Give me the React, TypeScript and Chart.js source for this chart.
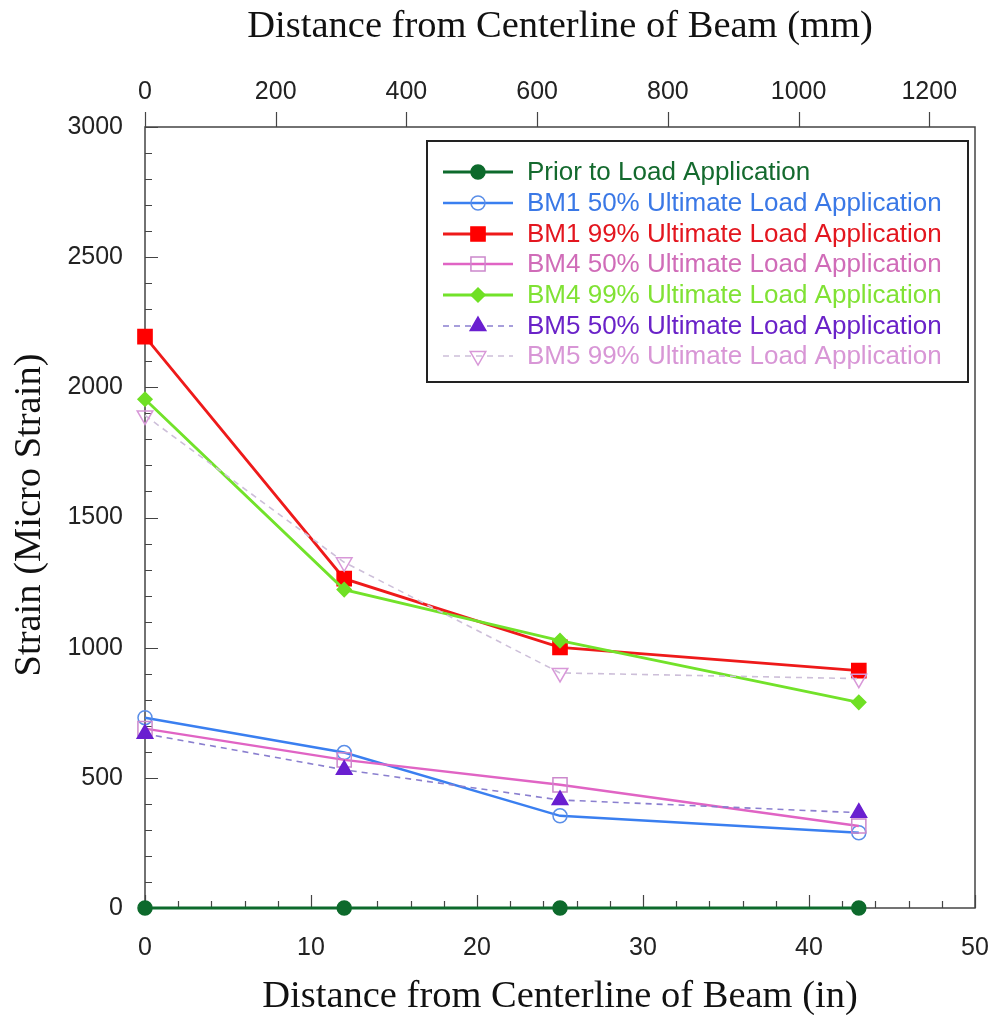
import React, { useEffect, useRef } from "react";
import { Chart, registerables } from "chart.js";

Chart.register(...registerables);

// ---- Data ----
const positionsIn = [0, 12, 25, 43];
const priorToLoad = [0, 0, 0, 0];
const bm1Half = [731, 597, 354, 289];
const bm1Ultimate = [2195, 1265, 1001, 912];
const bm4Half = [689, 569, 473, 315];
const bm4Ultimate = [1954, 1223, 1027, 790];
const bm5Half = [669, 531, 415, 366];
const bm5Ultimate = [1892, 1328, 903, 881];

const seriesLabels = [
  "Prior to Load Application",
  "BM1 50% Ultimate Load Application",
  "BM1 99% Ultimate Load Application",
  "BM4 50% Ultimate Load Application",
  "BM4 99% Ultimate Load Application",
  "BM5 50% Ultimate Load Application",
  "BM5 99% Ultimate Load Application",
];

const bottomTicks = [0, 10, 20, 30, 40, 50];
const topTicks = [0, 200, 400, 600, 800, 1000, 1200];
const yTicks = [0, 500, 1000, 1500, 2000, 2500, 3000];

const topTitle = "Distance from Centerline of Beam (mm)";
const bottomTitle = "Distance from Centerline of Beam (in)";
const yTitle = "Strain (Micro Strain)";

type Style = {
  line: string;
  text: string;
  markerBorder: string;
  markerFill: string;
  marker: "circle" | "rect" | "diamond" | "tri" | "triDown";
  radius: number;
  dash: number[];
  width: number;
};

const styles: Style[] = [
  { line: "#0d6a2c", text: "#146a2e", markerBorder: "#0d6a2c", markerFill: "#0d6a2c", marker: "circle", radius: 7, dash: [], width: 2.8 },
  { line: "#3a7ff0", text: "#3a78e6", markerBorder: "#5a8ee8", markerFill: "rgba(255,255,255,0)", marker: "circle", radius: 7, dash: [], width: 2.5 },
  { line: "#ee1a1a", text: "#e3161f", markerBorder: "#ff0000", markerFill: "#ff0000", marker: "rect", radius: 10, dash: [], width: 2.8 },
  { line: "#e064c4", text: "#d06cb8", markerBorder: "#cc88cc", markerFill: "rgba(255,255,255,0)", marker: "rect", radius: 10, dash: [], width: 2.5 },
  { line: "#72e22a", text: "#80e234", markerBorder: "#6fe024", markerFill: "#6fe024", marker: "diamond", radius: 7, dash: [], width: 2.8 },
  { line: "#8a7fcf", text: "#6a22c8", markerBorder: "#6a1fd0", markerFill: "#6a1fd0", marker: "tri", radius: 9, dash: [6, 5], width: 1.6 },
  { line: "#cdbfd9", text: "#d896d6", markerBorder: "#d898d8", markerFill: "rgba(255,255,255,0)", marker: "triDown", radius: 9, dash: [6, 5], width: 1.6 },
];

const seriesValues = [priorToLoad, bm1Half, bm1Ultimate, bm4Half, bm4Ultimate, bm5Half, bm5Ultimate];

function drawMarker(ctx: CanvasRenderingContext2D, s: Style, x: number, y: number) {
  ctx.save();
  ctx.setLineDash([]);
  ctx.lineWidth = 1.5;
  ctx.strokeStyle = s.markerBorder;
  ctx.fillStyle = s.markerFill;
  const r = s.radius;
  ctx.beginPath();
  if (s.marker === "circle") {
    ctx.arc(x, y, r, 0, Math.PI * 2);
  } else if (s.marker === "rect") {
    const h = r * Math.SQRT1_2;
    ctx.rect(x - h, y - h, 2 * h, 2 * h);
  } else if (s.marker === "diamond") {
    ctx.moveTo(x, y - r);
    ctx.lineTo(x + r, y);
    ctx.lineTo(x, y + r);
    ctx.lineTo(x - r, y);
    ctx.closePath();
  } else if (s.marker === "tri" || s.marker === "triDown") {
    const sgn = s.marker === "tri" ? 1 : -1;
    ctx.moveTo(x, y - sgn * r);
    ctx.lineTo(x + r * Math.sin((2 * Math.PI) / 3), y + sgn * r * 0.5);
    ctx.lineTo(x - r * Math.sin((2 * Math.PI) / 3), y + sgn * r * 0.5);
    ctx.closePath();
  }
  ctx.fill();
  ctx.stroke();
  ctx.restore();
}

const frameAndLegend = {
  id: "frameAndLegend",
  beforeDatasetsDraw(chart: any) {
    const ctx: CanvasRenderingContext2D = chart.ctx;
    const { left, right, top, bottom } = chart.chartArea;
    const xs = chart.scales.x;
    const xt = chart.scales.x2;
    const ys = chart.scales.y;
    ctx.save();
    ctx.strokeStyle = "#444";
    ctx.lineWidth = 1.5;
    ctx.strokeRect(left, top, right - left, bottom - top);
    ctx.lineWidth = 1.2;
    ctx.beginPath();
    // left axis ticks (inward)
    for (let v = 0; v <= 3000; v += 100) {
      const py = Math.round(ys.getPixelForValue(v)) + 0.5;
      const len = v % 500 === 0 ? 13 : 7;
      ctx.moveTo(left, py);
      ctx.lineTo(left + len, py);
    }
    // bottom axis ticks (inward)
    for (let v = 0; v <= 50; v += 2) {
      const px = Math.round(xs.getPixelForValue(v)) + 0.5;
      const len = v % 10 === 0 ? 13 : 7;
      ctx.moveTo(px, bottom);
      ctx.lineTo(px, bottom - len);
    }
    // top axis ticks (outward)
    for (const v of topTicks) {
      const px = Math.round(xt.getPixelForValue(v)) + 0.5;
      ctx.moveTo(px, top);
      ctx.lineTo(px, top - 15);
    }
    ctx.stroke();
    ctx.restore();
  },
  afterDraw(chart: any) {
    const ctx: CanvasRenderingContext2D = chart.ctx;
    ctx.save();
    // titles
    ctx.fillStyle = "#111";
    ctx.font = "38.5px 'Liberation Serif', 'Times New Roman', serif";
    ctx.textAlign = "center";
    ctx.textBaseline = "middle";
    ctx.fillText(topTitle, 560, 27);
    ctx.fillText(bottomTitle, 560, 997);
    ctx.save();
    ctx.translate(30, 515);
    ctx.rotate(-Math.PI / 2);
    ctx.fillText(yTitle, 0, 0);
    ctx.restore();

    // legend
    const bx = 427, by = 141, bw = 541, bh = 241;
    ctx.fillStyle = "#fff";
    ctx.fillRect(bx, by, bw, bh);
    ctx.strokeStyle = "#222";
    ctx.lineWidth = 2;
    ctx.strokeRect(bx, by, bw, bh);
    const rows = [172, 203, 234, 264, 295, 326, 356];
    ctx.font = "26px 'Liberation Sans', Arial, sans-serif";
    ctx.textAlign = "left";
    ctx.textBaseline = "middle";
    styles.forEach((s, i) => {
      const ry = rows[i];
      ctx.save();
      ctx.strokeStyle = s.line;
      ctx.lineWidth = s.width;
      ctx.setLineDash(s.dash);
      ctx.beginPath();
      ctx.moveTo(443, ry);
      ctx.lineTo(513, ry);
      ctx.stroke();
      ctx.restore();
      drawMarker(ctx, s, 478, ry);
      ctx.fillStyle = s.text;
      ctx.fillText(seriesLabels[i], 527, ry + 1);
    });
    ctx.restore();
  },
};

const markerStyleMap: Record<string, { pointStyle: string; rotation: number }> = {
  circle: { pointStyle: "circle", rotation: 0 },
  rect: { pointStyle: "rect", rotation: 0 },
  diamond: { pointStyle: "rectRot", rotation: 0 },
  tri: { pointStyle: "triangle", rotation: 0 },
  triDown: { pointStyle: "triangle", rotation: 180 },
};

export default function App() {
  const ref = useRef<HTMLCanvasElement | null>(null);
  useEffect(() => {
    if (!ref.current) return;
    const datasets = seriesValues.map((vals, i) => {
      const s = styles[i];
      const m = markerStyleMap[s.marker];
      return {
        label: seriesLabels[i],
        data: positionsIn.map((x, j) => ({ x, y: vals[j] })),
        borderColor: s.line,
        borderWidth: s.width,
        borderDash: s.dash,
        backgroundColor: s.markerFill,
        pointStyle: m.pointStyle,
        pointRotation: m.rotation,
        pointRadius: s.radius,
        pointBorderColor: s.markerBorder,
        pointBackgroundColor: s.markerFill,
        pointBorderWidth: 1.5,
        tension: 0,
        fill: false,
        clip: false as any,
        order: i === 0 ? 0 : 7 - i,
      };
    });
    const tickFont = { family: "'Liberation Sans', Arial, sans-serif", size: 25 };
    const fmt = (v: any) => String(v);
    const chart = new Chart(ref.current, {
      type: "line",
      data: { datasets: datasets as any },
      plugins: [frameAndLegend],
      options: {
        animation: false,
        responsive: false,
        devicePixelRatio: 1,
        layout: { padding: { left: 0, right: 17, top: 0, bottom: 0 } },
        plugins: { legend: { display: false }, tooltip: { enabled: false } },
        scales: {
          x: {
            type: "linear",
            position: "bottom",
            min: 0,
            max: 50,
            afterBuildTicks: (s: any) => { s.ticks = bottomTicks.map((v) => ({ value: v })); },
            afterFit: (s: any) => { s.height = 107; s.paddingLeft = 0; s.paddingRight = 0; },
            ticks: { font: tickFont, color: "#222", padding: 17, maxRotation: 0, autoSkip: false, callback: fmt },
            grid: { display: false },
            border: { display: false },
          },
          x2: {
            type: "linear",
            position: "top",
            min: 0,
            max: 1270,
            afterBuildTicks: (s: any) => { s.ticks = topTicks.map((v) => ({ value: v })); },
            afterFit: (s: any) => { s.height = 127; s.paddingLeft = 0; s.paddingRight = 0; },
            ticks: { font: tickFont, color: "#222", padding: 12, maxRotation: 0, autoSkip: false, callback: fmt },
            grid: { display: false },
            border: { display: false },
          },
          y: {
            type: "linear",
            min: 0,
            max: 3000,
            afterBuildTicks: (s: any) => { s.ticks = yTicks.map((v) => ({ value: v })); },
            afterFit: (s: any) => { s.width = 145; s.paddingTop = 0; s.paddingBottom = 0; },
            ticks: { font: tickFont, color: "#222", padding: 14, autoSkip: false, callback: fmt },
            grid: { display: false },
            border: { display: false },
          },
        },
      },
    } as any);
    return () => chart.destroy();
  }, []);
  return (
    <div style={{ position: "absolute", left: 0, top: 0, width: 992, height: 1015, background: "#fff" }}>
      <canvas ref={ref} width={992} height={1015} />
    </div>
  );
}
